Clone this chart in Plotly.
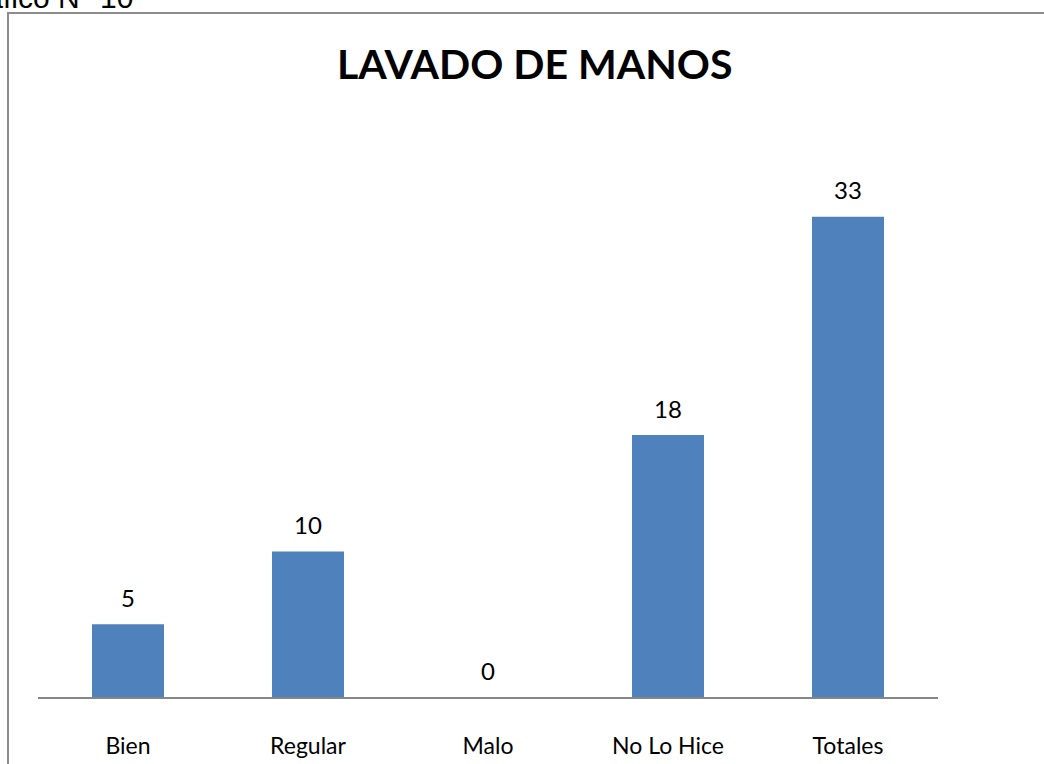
import plotly.graph_objects as go

categories = ["Bien", "Regular", "Malo", "No Lo Hice", "Totales"]
values = [5, 10, 0, 18, 33]
title_text = "LAVADO DE MANOS"
caption_text = "Gráfico N° 10"

W, H = 1044, 764
L, R, T, B = 38, 938, 173, 697
pw, ph = R - L, B - T

def px_x(x):
    return (x - L) / pw

def px_y(y):
    return (B - y) / ph

FONT = "Lato, Liberation Sans, sans-serif"

fig = go.Figure(go.Bar(
    x=categories, y=values, width=0.4,
    marker=dict(color="#4F81BD", line=dict(width=0)),
    hoverinfo="x+y",
))

value_annotations = [
    dict(x=c, y=v, xref="x", yref="y", text=str(v), showarrow=False,
         yanchor="middle", xanchor="center", yshift=27,
         font=dict(family=FONT, size=24, color="#000000"))
    for c, v in zip(categories, values)
]

fig.update_layout(
    width=W, height=H, autosize=False,
    margin=dict(l=L, r=W - R, t=T, b=H - B, pad=0, autoexpand=False),
    paper_bgcolor="white", plot_bgcolor="white",
    showlegend=False,
    xaxis=dict(showline=True, linecolor="#868686", linewidth=2, showgrid=False,
               automargin=False,
               ticks="outside", ticklen=27, tickcolor="rgba(0,0,0,0)",
               tickfont=dict(family=FONT, size=23, color="#000000")),
    yaxis=dict(range=[0, 36], visible=False, showgrid=False, automargin=False),
    shapes=[dict(type="rect", xref="paper", yref="paper",
                 x0=px_x(8), x1=px_x(1070), y0=px_y(800), y1=px_y(13),
                 line=dict(color="#8C8C8C", width=2), fillcolor="rgba(0,0,0,0)", layer="below")],
    annotations=value_annotations + [
        dict(text="<b>" + title_text + "</b>", xref="paper", yref="paper",
             x=px_x(534), y=px_y(63), xanchor="center", yanchor="middle", showarrow=False,
             font=dict(family=FONT, size=41, color="#000000")),
        dict(text=caption_text, xref="paper", yref="paper",
             x=px_x(135), y=px_y(16), xanchor="right", yanchor="bottom", showarrow=False,
             font=dict(family="Liberation Sans, Arial, sans-serif", size=30, color="#000000")),
    ],
)

fig.write_html("out.html", config={"displayModeBar": False},
               post_script="document.body.style.margin='0';document.body.style.overflow='hidden';")
